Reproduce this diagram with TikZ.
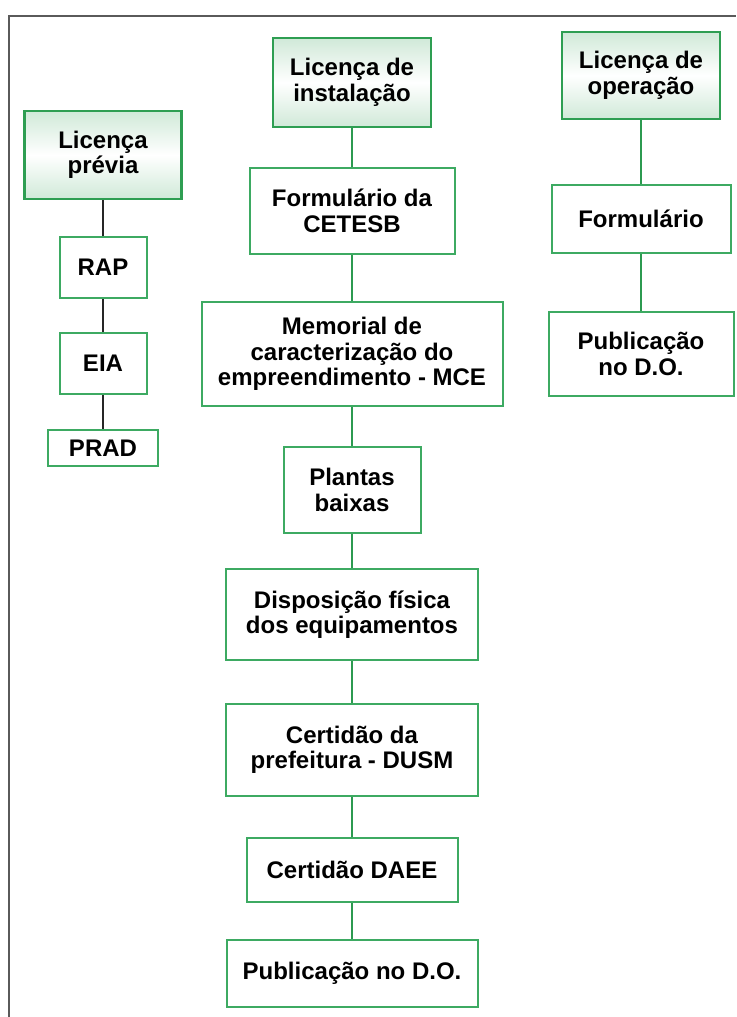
\documentclass[tikz,border=0pt]{standalone}
\usepackage{fontspec}
\setmainfont{Liberation Sans}
\definecolor{boxgreen}{HTML}{3DAA62}
\definecolor{hdrgreen}{HTML}{2E9E52}
\definecolor{hdrfill}{HTML}{D0E9D8}
\definecolor{linegreen}{HTML}{2C9A50}
\definecolor{framegray}{HTML}{5A5A5A}
\tikzset{
  docbox/.style={draw=boxgreen, line width=2pt, fill=white, align=center,
    inner sep=0pt, font=\bfseries\fontsize{24}{25.5}\selectfont},
  licbox/.style={docbox, draw=hdrgreen, line width=2.6pt,
    top color=hdrfill, bottom color=hdrfill, middle color=white},
  link/.style={draw=linegreen, line width=2.2pt},
  darklink/.style={draw=black!85, line width=2.4pt}
}

\begin{document}
\begin{tikzpicture}[x=1pt,y=-1pt]
\useasboundingbox (0,0) rectangle (736,1017);
\draw[framegray, line width=2pt] (9,1017) -- (9,16) -- (736,16);

\node[licbox, minimum width=157, minimum height=88] (previa) at (103,155) {Licença\\prévia};
\node[docbox, minimum width=87, minimum height=61] (rap) at (103,267.5) {RAP};
\node[docbox, minimum width=87, minimum height=61] (eia) at (103,363.5) {EIA};
\node[docbox, minimum width=110, minimum height=36] (prad) at (103,448) {PRAD};

\node[licbox, minimum width=158, minimum height=89] (instalacao) at (352,82.5) {Licença de\\instalação};
\node[docbox, minimum width=205, minimum height=86] (cetesb) at (352,211) {Formulário da\\CETESB};
\node[docbox, minimum width=301, minimum height=104] (mce) at (352,354) {Memorial de\\caracterização do\\empreendimento - MCE};
\node[docbox, minimum width=137, minimum height=86] (plantas) at (352,490) {Plantas\\baixas};
\node[docbox, minimum width=252, minimum height=91] (disposicao) at (352,614.5) {Disposição física\\dos equipamentos};
\node[docbox, minimum width=252, minimum height=92] (dusm) at (352,750) {Certidão da\\prefeitura - DUSM};
\node[docbox, minimum width=211, minimum height=64] (daee) at (352,870) {Certidão DAEE};
\node[docbox, minimum width=251, minimum height=67] (pubinst) at (352,973.5) {Publicação no D.O.};

\node[licbox, minimum width=158, minimum height=87] (operacao) at (641,75.5) {Licença de\\operação};
\node[docbox, minimum width=179, minimum height=68] (formop) at (641,219) {Formulário};
\node[docbox, minimum width=185, minimum height=84] (pubop) at (641,354) {Publicação\\no D.O.};

\draw[darklink] (previa) -- (rap) -- (eia) -- (prad);
\draw[link] (instalacao) -- (cetesb) -- (mce) -- (plantas) -- (disposicao) -- (dusm) -- (daee) -- (pubinst);
\draw[link] (operacao) -- (formop) -- (pubop);
\end{tikzpicture}
\end{document}
